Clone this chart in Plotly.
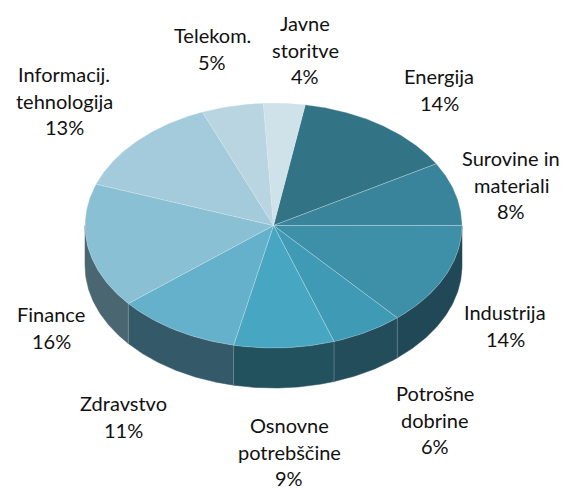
import math
import plotly.graph_objects as go

# Slices clockwise, starting with Energija
categories = ["Energija", "Surovine in materiali", "Industrija", "Potrošne dobrine",
              "Osnovne potrebščine", "Zdravstvo", "Finance", "Informacij. tehnologija",
              "Telekom.", "Javne storitve"]
values = [13.9, 8.4, 13.6, 6.2, 8.6, 10.6, 16.49, 13.36, 5.3, 3.55]
label_lines = [["Energija"], ["Surovine in", "materiali"], ["Industrija"], ["Potrošne", "dobrine"],
               ["Osnovne", "potrebščine"], ["Zdravstvo"], ["Finance"], ["Informacij.", "tehnologija"],
               ["Telekom."], ["Javne", "storitve"]]
label_centers = [(439, 76), (511, 158), (505, 312), (435, 393), (289, 425),
                 (123, 403), (51, 314), (64, 74), (212, 35), (305, 23)]
top_colors = ["#327385", "#39849b", "#3e90a9", "#3f9ab5", "#47a6c2",
              "#65b1cb", "#8ac0d3", "#a3cbdb", "#b8d5e1", "#cfe1e9"]
side_colors = ["#29606f", "#2b6a7c", "#204857", "#234d5a", "#23525f",
               "#345a6a", "#4a6670", "#7fa0ae", "#8fb0bc", "#a0bcc6"]

CX, CY, RX, RY, DEPTH = 273.5, 225.5, 188.5, 122.5, 40
START_DEG = 9.7
LINE_GAP = 26.7


def rim(deg, dy=0.0):
    a = math.radians(deg)
    return CX + RX * math.sin(a), CY - RY * math.cos(a) + dy


def arc(a0, a1, dy=0.0):
    n = max(2, int(abs(a1 - a0) * 2))
    return [rim(a0 + (a1 - a0) * i / n, dy) for i in range(n + 1)]


fig = go.Figure()

# slice boundaries from the data
edges = [START_DEG]
for v in values:
    edges.append(edges[-1] + v / sum(values) * 360)

# side wall: only the front half of the rim (90..270 deg) is visible
for name, c, a0, a1 in zip(categories, side_colors, edges[:-1], edges[1:]):
    lo, hi = max(a0, 90), min(a1, 270)
    if lo >= hi:
        continue
    pts = arc(lo, hi) + arc(hi, lo, DEPTH)
    pts.append(pts[0])
    fig.add_trace(go.Scatter(x=[p[0] for p in pts], y=[p[1] for p in pts], mode="lines",
                             fill="toself", fillcolor=c, line=dict(color=c, width=0.5),
                             name=name, hoverinfo="name", showlegend=False))
    if lo > 90:
        x0, y0 = rim(lo)
        fig.add_trace(go.Scatter(x=[x0, x0], y=[y0, y0 + DEPTH], mode="lines",
                                 line=dict(color="rgba(255,255,255,0.22)", width=1),
                                 hoverinfo="skip", showlegend=False))

# top face
for name, c, a0, a1 in zip(categories, top_colors, edges[:-1], edges[1:]):
    pts = [(CX, CY)] + arc(a0, a1) + [(CX, CY)]
    fig.add_trace(go.Scatter(x=[p[0] for p in pts], y=[p[1] for p in pts], mode="lines",
                             fill="toself", fillcolor=c,
                             line=dict(color="rgba(225,240,245,0.4)", width=0.7),
                             name=name, hoverinfo="name", showlegend=False))

# labels
for lines, v, (lx, ly) in zip(label_lines, values, label_centers):
    for i, t in enumerate(lines + [f"{round(v)}%"]):
        fig.add_annotation(x=lx, y=ly + i * LINE_GAP, text=t, showarrow=False,
                           xanchor="center", yanchor="middle",
                           font=dict(family="Lato", size=20, color="#111111"))

fig.update_layout(
    width=563, height=490, margin=dict(l=0, r=0, t=0, b=0),
    paper_bgcolor="white", plot_bgcolor="white", showlegend=False,
    xaxis=dict(range=[0, 563], visible=False, fixedrange=True),
    yaxis=dict(range=[490, 0], visible=False, fixedrange=True),
)
fig.write_html("out.html", config={"displayModeBar": False},
               post_script="document.body.style.margin='0';document.body.style.overflow='hidden';")
